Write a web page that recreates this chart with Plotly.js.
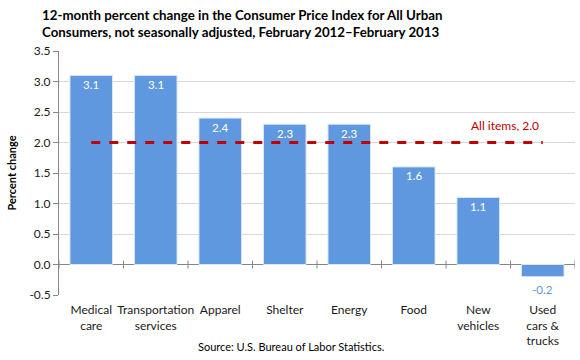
<!DOCTYPE html>
<html><head><meta charset="utf-8">
<script src="https://cdn.plot.ly/plotly-3.0.1.min.js"></script>
<style>html,body{margin:0;padding:0;background:#fff}</style>
</head><body><div id="chart" style="width:580px;height:360px"></div>
<script>
const categories = ["Medical<br>care","Transportation<br>services","Apparel","Shelter","Energy","Food","New<br>vehicles","Used<br>cars &amp;<br>trucks"];
const values = [3.1, 3.1, 2.4, 2.3, 2.3, 1.6, 1.1, -0.2];
const allItems = 2.0;
const yTicks = [-0.5,0,0.5,1,1.5,2,2.5,3,3.5];

const font = "Lato, Open Sans, sans-serif";
const barColor = "#5F98DE";
const lineColor = "#C00000";

const bar = {
  type: "bar", x: categories, y: values,
  marker: {color: barColor, line: {color: "#DCE6F2", width: 1}},
  width: 0.66,
  hoverinfo: "skip"
};
const line = {
  type: "scatter", mode: "lines",
  x: [categories[0], categories[categories.length-1]],
  y: [allItems, allItems],
  line: {color: lineColor, width: 3, dash: "dash"},
  hoverinfo: "skip"
};

const tickShapes = [];
for (let i = 0; i <= categories.length; i++) {
  tickShapes.push({type: "line", xref: "x", yref: "y", x0: i - 0.5, x1: i - 0.5,
    ysizemode: "pixel", yanchor: 0, y0: -4, y1: 4, line: {color: "#868686", width: 1}});
}

const valueLabels = values.map((v, i) => ({
  text: v.toFixed(1), x: categories[i], y: v, xref: "x", yref: "y", showarrow: false,
  yanchor: v < 0 ? "top" : "middle", yshift: v < 0 ? -4 : -9,
  font: {family: font, size: 11.5, color: v < 0 ? barColor : "#FFFFFF"}
}));

const layout = {
  width: 580, height: 360,
  margin: {l: 59, r: 5, t: 51, b: 65},
  paper_bgcolor: "#fff", plot_bgcolor: "#fff",
  showlegend: false,
  bargap: 0.34,
  xaxis: {type: "category", range: [-0.5, categories.length - 0.5], showgrid: false, showline: false,
    zeroline: false, ticks: "", ticklabelstandoff: 6, tickfont: {family: font, size: 12, color: "#1a1a1a"}, fixedrange: true},
  yaxis: {range: [-0.5, 3.5], tickvals: yTicks, ticktext: yTicks.map(v => v.toFixed(1)),
    showgrid: true, gridcolor: "#D9D9D9", gridwidth: 1,
    zeroline: true, zerolinecolor: "#868686", zerolinewidth: 1,
    showline: true, linecolor: "#868686", linewidth: 1, ticks: "outside", ticklen: 5, tickcolor: "#868686",
    tickfont: {family: font, size: 12, color: "#1a1a1a"},
    title: {text: "<b>Percent change</b>", font: {family: font, size: 11, color: "#000"}, standoff: 10},
    fixedrange: true},
  shapes: tickShapes,
  annotations: valueLabels.concat([
    {text: "<b>12-month percent change in the Consumer Price Index for All Urban<br>Consumers, not seasonally adjusted, February 2012\u2013February 2013</b>",
      xref: "paper", yref: "paper", x: (40 - 59) / 516, y: 1 + 46 / 244, xanchor: "left", yanchor: "top", align: "left",
      showarrow: false, font: {family: font, size: 13.3, color: "#000"}},
    {text: "All items, 2.0", x: categories[7], y: allItems, xref: "x", yref: "y", xanchor: "right", yanchor: "bottom",
      xshift: -2, yshift: 8, showarrow: false, font: {family: font, size: 12, color: lineColor}},
    {text: "Source: U.S. Bureau of Labor Statistics.", xref: "paper", yref: "paper", x: (291 - 59) / 516, y: -51 / 244,
      xanchor: "center", yanchor: "middle", showarrow: false, font: {family: font, size: 11, color: "#000"}}
  ])
};
Plotly.newPlot("chart", [bar, line], layout, {displayModeBar: false, staticPlot: true});
</script></body></html>
